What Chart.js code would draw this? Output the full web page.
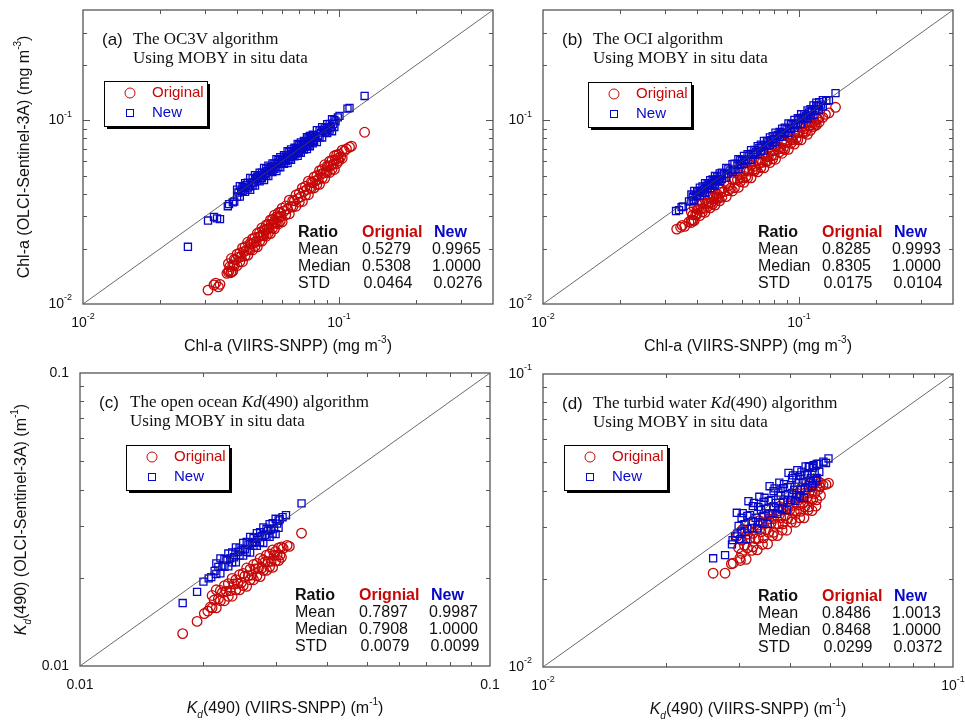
<!DOCTYPE html>
<html>
<head>
<meta charset="utf-8">
<script src="https://cdn.jsdelivr.net/npm/chart.js@4.4.1/dist/chart.umd.min.js"></script>
<style>
  html, body { margin: 0; padding: 0; background: #fff; }
  #wrap { position: relative; width: 965px; height: 727px; }
  #wrap canvas { position: absolute; left: 0; top: 0; }
</style>
</head>
<body>
<div id="wrap">
  <canvas id="chartA" width="965" height="727"></canvas>
  <canvas id="chartB" width="965" height="727"></canvas>
  <canvas id="chartC" width="965" height="727"></canvas>
  <canvas id="chartD" width="965" height="727"></canvas>
</div>
<script>
// ---- data: [VIIRS-SNPP, OLCI-Sentinel-3A] ----
const aOriginal = [
  [0.0308,0.0119],[0.0325,0.0127],[0.0330,0.0130],[0.0338,0.0124],[0.0343,0.0128],
  [0.0365,0.0147],[0.0372,0.0152],[0.0378,0.0148],[0.0385,0.0151],
  [0.037,0.0166],[0.037,0.0149],[0.038,0.0177],[0.038,0.0150],[0.039,0.0175],[0.039,0.0162],
  [0.040,0.0187],[0.040,0.0162],[0.041,0.0190],[0.041,0.0170],[0.042,0.0202],[0.042,0.0170],
  [0.043,0.0205],[0.043,0.0183],[0.044,0.0217],[0.044,0.0184],[0.045,0.0214],[0.045,0.0198],
  [0.046,0.0227],[0.046,0.0197],[0.047,0.0230],[0.047,0.0206],[0.048,0.0243],[0.048,0.0205],
  [0.049,0.0246],[0.049,0.0220],[0.050,0.0260],[0.050,0.0220],[0.051,0.0255],[0.051,0.0235],
  [0.052,0.0270],[0.052,0.0234],[0.053,0.0272],[0.053,0.0243],[0.054,0.0287],[0.054,0.0242],
  [0.055,0.0289],[0.055,0.0259],[0.056,0.0305],[0.056,0.0257],[0.057,0.0298],[0.057,0.0275],
  [0.058,0.0314],[0.058,0.0273],[0.059,0.0316],[0.059,0.0283],[0.060,0.0333],[0.060,0.0280],
  [0.062,0.0342],[0.062,0.0306],[0.064,0.0368],[0.064,0.0310],[0.066,0.0366],[0.066,0.0338],
  [0.068,0.0393],[0.068,0.0341],[0.070,0.0401],[0.070,0.0359],[0.072,0.0429],[0.072,0.0362],
  [0.074,0.0438],[0.074,0.0392],[0.076,0.0467],[0.076,0.0394],[0.078,0.0462],[0.078,0.0427],
  [0.080,0.0493],[0.080,0.0429],[0.082,0.0501],[0.082,0.0448],[0.084,0.0533],[0.084,0.0449],
  [0.086,0.0541],[0.086,0.0485],[0.088,0.0574],[0.088,0.0484],[0.090,0.0565],[0.090,0.0522],
  [0.092,0.0600],[0.092,0.0521],[0.094,0.0606],[0.094,0.0543],[0.096,0.0642],[0.096,0.0541],
  [0.098,0.0649],[0.098,0.0582],[0.100,0.0655],[0.100,0.0605],[0.103,0.0689],[0.103,0.0623],
  [0.0375,0.0160],[0.0385,0.0163],[0.0395,0.0174],[0.0405,0.0180],[0.0415,0.0181],[0.0425,0.0193],
  [0.0435,0.0196],[0.0445,0.0200],[0.0455,0.0212],[0.0465,0.0216],[0.0475,0.0219],[0.0485,0.0232],
  [0.0495,0.0235],[0.0505,0.0238],[0.0515,0.0252],[0.0525,0.0256],[0.0535,0.0259],[0.0545,0.0273],
  [0.0555,0.0276],[0.0565,0.0279],[0.0575,0.0294],[0.0585,0.0297],[0.0595,0.0300],[0.061,0.0320],
  [0.063,0.0330],[0.065,0.0340],[0.067,0.0365],[0.069,0.0375],[0.071,0.0384],[0.073,0.0411],
  [0.075,0.0421],[0.077,0.0430],[0.079,0.0459],[0.081,0.0469],[0.083,0.0478],[0.085,0.0509],
  [0.087,0.0518],[0.089,0.0527],[0.091,0.0560],[0.093,0.0569],[0.095,0.0577],[0.097,0.0612],
  [0.099,0.0621],[0.1015,0.0634],
  [0.105,0.0680],[0.107,0.0700],[0.110,0.0716],[0.112,0.0725],[0.126,0.0863]
];
const aNew = [
  [0.0257,0.0205],[0.0308,0.0285],[0.0325,0.0298],[0.0334,0.0293],[0.0343,0.0290],
  [0.0368,0.0341],[0.0372,0.0350],[0.0385,0.0358],[0.0390,0.0362],
  [0.040,0.0420],[0.040,0.0384],[0.041,0.0439],[0.041,0.0385],[0.042,0.0433],[0.042,0.0412],
  [0.043,0.0456],[0.043,0.0409],[0.044,0.0458],[0.044,0.0427],[0.045,0.0486],[0.045,0.0419],
  [0.046,0.0483],[0.046,0.0442],[0.047,0.0503],[0.047,0.0442],[0.048,0.0494],[0.048,0.0470],
  [0.049,0.0519],[0.049,0.0466],[0.050,0.0520],[0.050,0.0485],[0.051,0.0551],[0.051,0.0474],
  [0.052,0.0546],[0.052,0.0499],[0.053,0.0567],[0.053,0.0498],[0.054,0.0556],[0.054,0.0529],
  [0.055,0.0583],[0.055,0.0523],[0.056,0.0582],[0.056,0.0543],[0.057,0.0616],[0.057,0.0530],
  [0.058,0.0609],[0.058,0.0557],[0.059,0.0631],[0.059,0.0555],[0.060,0.0618],[0.060,0.0588],
  [0.061,0.0647],[0.061,0.0580],[0.062,0.0645],[0.062,0.0601],[0.063,0.0680],[0.063,0.0586],
  [0.064,0.0672],[0.064,0.0614],[0.065,0.0696],[0.065,0.0611],[0.066,0.0680],[0.066,0.0647],
  [0.067,0.0710],[0.067,0.0637],[0.068,0.0707],[0.068,0.0660],[0.069,0.0745],[0.069,0.0642],
  [0.070,0.0735],[0.070,0.0672],[0.071,0.0760],[0.071,0.0667],[0.072,0.0742],[0.072,0.0706],
  [0.073,0.0774],[0.073,0.0694],[0.074,0.0770],[0.074,0.0718],[0.075,0.0810],[0.075,0.0698],
  [0.076,0.0798],[0.076,0.0730],[0.077,0.0824],[0.077,0.0724],[0.078,0.0803],[0.078,0.0764],
  [0.079,0.0837],[0.079,0.0751],[0.080,0.0832],[0.080,0.0776],[0.082,0.0886],[0.082,0.0763],
  [0.084,0.0882],[0.084,0.0806],[0.086,0.0920],[0.086,0.0808],[0.088,0.0906],[0.088,0.0862],
  [0.090,0.0954],[0.090,0.0855],[0.092,0.0957],[0.092,0.0892],[0.094,0.1015],[0.094,0.0874],
  [0.096,0.1008],[0.096,0.0922],
  [0.0405,0.0405],[0.0415,0.0411],[0.0425,0.0429],[0.0435,0.0444],[0.0445,0.0436],[0.0455,0.0455],
  [0.0465,0.0460],[0.0475,0.0480],[0.0485,0.0495],[0.0495,0.0485],[0.0505,0.0505],[0.0515,0.0510],
  [0.0525,0.0530],[0.0535,0.0546],[0.0545,0.0534],[0.0555,0.0555],[0.0565,0.0559],[0.0575,0.0581],
  [0.0585,0.0597],[0.0595,0.0583],[0.0605,0.0605],[0.0615,0.0609],[0.0625,0.0631],[0.0635,0.0648],
  [0.0645,0.0632],[0.0655,0.0655],[0.0665,0.0658],[0.0675,0.0682],[0.0685,0.0699],[0.0695,0.0681],
  [0.0705,0.0705],[0.0715,0.0708],[0.0725,0.0732],[0.0735,0.0750],[0.0745,0.0730],[0.0755,0.0755],
  [0.0765,0.0757],[0.0775,0.0783],[0.0785,0.0801],[0.0795,0.0779],[0.081,0.0810],[0.083,0.0822],
  [0.085,0.0859],[0.087,0.0887],[0.089,0.0872],[0.091,0.0910],[0.093,0.0921],[0.095,0.0960],
  [0.097,0.0989],
  [0.099,0.1040],[0.1005,0.1060],[0.108,0.1160],[0.110,0.1170],[0.126,0.1360]
];
const bOriginal = [
  [0.0333,0.0256],[0.0345,0.0262],[0.0350,0.0268],[0.0358,0.0265],[0.0372,0.0280],[0.0380,0.0278],[0.0385,0.0285],
  [0.038,0.0317],[0.038,0.0287],[0.039,0.0335],[0.039,0.0285],[0.040,0.0328],[0.040,0.0308],
  [0.041,0.0349],[0.041,0.0303],[0.042,0.0352],[0.042,0.0318],[0.043,0.0370],[0.043,0.0316],
  [0.044,0.0362],[0.044,0.0340],[0.045,0.0384],[0.045,0.0334],[0.046,0.0386],[0.046,0.0350],
  [0.047,0.0406],[0.047,0.0346],[0.048,0.0396],[0.048,0.0372],[0.049,0.0421],[0.049,0.0365],
  [0.050,0.0422],[0.050,0.0382],[0.052,0.0453],[0.052,0.0385],[0.053,0.0441],[0.053,0.0415],
  [0.055,0.0475],[0.055,0.0413],[0.056,0.0476],[0.056,0.0430],[0.058,0.0508],[0.058,0.0432],
  [0.059,0.0492],[0.059,0.0464],[0.061,0.0530],[0.061,0.0460],[0.063,0.0538],[0.063,0.0486],
  [0.065,0.0571],[0.065,0.0487],[0.067,0.0562],[0.067,0.0530],[0.069,0.0603],[0.069,0.0525],
  [0.071,0.0612],[0.071,0.0554],[0.073,0.0648],[0.073,0.0552],[0.075,0.0636],[0.075,0.0598],
  [0.077,0.0678],[0.077,0.0590],[0.079,0.0684],[0.079,0.0618],[0.081,0.0723],[0.081,0.0615],
  [0.084,0.0716],[0.084,0.0674],[0.086,0.0763],[0.086,0.0663],[0.088,0.0767],[0.088,0.0694],
  [0.091,0.0816],[0.091,0.0696],[0.093,0.0796],[0.093,0.0750],[0.096,0.0856],[0.096,0.0744],
  [0.099,0.0867],[0.099,0.0785],[0.102,0.0920],[0.102,0.0784],[0.105,0.0904],[0.105,0.0852],
  [0.108,0.0967],[0.108,0.0841],[0.111,0.0978],[0.111,0.0884],[0.114,0.0985],[0.114,0.0927],
  [0.117,0.1022],[0.117,0.0944],[0.120,0.1038],[0.120,0.0978],
  [0.0385,0.0306],[0.0395,0.0308],[0.0405,0.0328],[0.0415,0.0331],[0.0425,0.0332],[0.0435,0.0354],
  [0.0445,0.0355],[0.0455,0.0357],[0.0465,0.0379],[0.0475,0.0380],[0.0485,0.0381],[0.0495,0.0405],
  [0.051,0.0410],[0.054,0.0427],[0.0575,0.0475],[0.060,0.0487],[0.062,0.0494],[0.064,0.0530],
  [0.066,0.0537],[0.068,0.0544],[0.070,0.0585],[0.072,0.0591],[0.074,0.0596],[0.076,0.0638],
  [0.078,0.0643],[0.080,0.0647],[0.0825,0.0696],[0.085,0.0704],[0.087,0.0707],[0.0895,0.0758],
  [0.0945,0.0786],[0.0975,0.0797],[0.1005,0.0856],[0.1035,0.0865],[0.1065,0.0873],[0.1095,0.0935],
  [0.1125,0.0944],[0.1155,0.0951],[0.1185,0.1016],
  [0.124,0.1040],[0.127,0.1080],[0.131,0.1100],[0.139,0.1180]
];
const bNew = [
  [0.0331,0.0321],[0.0340,0.0325],[0.0348,0.0337],[0.0352,0.0340],[0.0372,0.0362],[0.0387,0.0367],
  [0.038,0.0395],[0.038,0.0365],[0.039,0.0413],[0.039,0.0367],[0.040,0.0412],[0.040,0.0388],
  [0.041,0.0431],[0.041,0.0390],[0.042,0.0437],[0.042,0.0403],[0.043,0.0456],[0.043,0.0404],
  [0.044,0.0453],[0.044,0.0427],[0.045,0.0473],[0.045,0.0428],[0.046,0.0478],[0.046,0.0442],
  [0.047,0.0498],[0.047,0.0442],[0.048,0.0494],[0.048,0.0466],[0.049,0.0515],[0.049,0.0466],
  [0.050,0.0520],[0.050,0.0480],[0.052,0.0551],[0.052,0.0489],[0.053,0.0546],[0.053,0.0514],
  [0.055,0.0578],[0.055,0.0523],[0.056,0.0582],[0.056,0.0538],[0.058,0.0615],[0.058,0.0545],
  [0.059,0.0608],[0.059,0.0572],[0.061,0.0641],[0.061,0.0580],[0.063,0.0655],[0.063,0.0605],
  [0.065,0.0689],[0.065,0.0611],[0.067,0.0690],[0.067,0.0650],[0.069,0.0725],[0.069,0.0656],
  [0.071,0.0738],[0.071,0.0682],[0.073,0.0774],[0.073,0.0686],[0.075,0.0773],[0.075,0.0728],
  [0.077,0.0809],[0.077,0.0732],[0.079,0.0822],[0.079,0.0758],[0.081,0.0859],[0.081,0.0761],
  [0.084,0.0865],[0.084,0.0815],[0.086,0.0903],[0.086,0.0817],[0.088,0.0915],[0.088,0.0845],
  [0.091,0.0965],[0.091,0.0855],[0.093,0.0958],[0.093,0.0902],[0.096,0.1008],[0.096,0.0912],
  [0.099,0.1030],[0.099,0.0950],[0.102,0.1081],[0.102,0.0959],[0.105,0.1082],[0.105,0.1019],
  [0.108,0.1134],[0.108,0.1026],[0.111,0.1154],[0.111,0.1066],[0.114,0.1208],[0.114,0.1072],
  [0.117,0.1205],[0.117,0.1135],[0.120,0.1260],[0.120,0.1140],[0.124,0.1290],[0.124,0.1190],
  [0.0385,0.0385],[0.0395,0.0391],[0.0405,0.0409],[0.0415,0.0415],[0.0425,0.0421],[0.0435,0.0439],
  [0.0445,0.0445],[0.0455,0.0450],[0.0465,0.0470],[0.0475,0.0475],[0.0485,0.0480],[0.0495,0.0500],
  [0.051,0.0510],[0.054,0.0535],[0.0575,0.0581],[0.060,0.0600],[0.062,0.0614],[0.064,0.0646],
  [0.066,0.0660],[0.068,0.0673],[0.070,0.0707],[0.072,0.0720],[0.074,0.0733],[0.076,0.0768],
  [0.078,0.0780],[0.080,0.0792],[0.0825,0.0833],[0.085,0.0850],[0.087,0.0861],[0.0895,0.0904],
  [0.0945,0.0945],[0.0975,0.0965],[0.1005,0.1015],[0.1035,0.1035],[0.1065,0.1054],[0.1095,0.1106],
  [0.1125,0.1125],[0.1155,0.1143],[0.1185,0.1197],[0.122,0.1220],
  [0.117,0.1250],[0.128,0.1280],[0.131,0.1290],[0.139,0.1410]
];
const cOriginal = [
  [0.0178,0.0129],[0.0193,0.0142],[0.0201,0.0151],[0.0205,0.0154],[0.0208,0.0159],
  [0.0210,0.0174],[0.0210,0.0158],[0.0215,0.0182],[0.0215,0.0158],[0.0220,0.0181],[0.0220,0.0167],
  [0.0225,0.0188],[0.0225,0.0167],[0.0230,0.0191],[0.0230,0.0173],[0.0235,0.0199],[0.0235,0.0173],
  [0.0240,0.0197],[0.0240,0.0182],[0.0245,0.0205],[0.0245,0.0182],[0.0250,0.0207],[0.0250,0.0188],
  [0.0255,0.0216],[0.0255,0.0187],[0.0260,0.0214],[0.0260,0.0197],[0.0265,0.0222],[0.0265,0.0197],
  [0.0270,0.0224],[0.0270,0.0203],[0.0275,0.0233],[0.0275,0.0202],[0.0280,0.0230],[0.0280,0.0212],
  [0.0285,0.0239],[0.0285,0.0212],[0.0290,0.0241],[0.0290,0.0218],[0.0295,0.0249],[0.0295,0.0217],
  [0.0300,0.0246],[0.0300,0.0228],[0.0305,0.0253],[0.0305,0.0229],[0.0310,0.0255],[0.0310,0.0235],
  [0.02125,0.01679],[0.02175,0.01693],[0.02225,0.01784],[0.02275,0.01797],[0.02325,0.01809],
  [0.02375,0.01904],[0.02425,0.01916],[0.02475,0.01926],[0.02525,0.02025],[0.02575,0.02034],
  [0.02625,0.02043],[0.02675,0.02145],[0.02725,0.02153],[0.02775,0.02159],[0.02825,0.02265],
  [0.02875,0.02271],[0.02925,0.02276],[0.02975,0.02385],[0.03025,0.0239],[0.03075,0.0239],
  [0.0313,0.0252],[0.0320,0.0258],[0.0324,0.0256],[0.0347,0.0284]
];
const cNew = [
  [0.0178,0.0164],[0.0193,0.0179],[0.0200,0.0194],[0.0206,0.0199],[0.0209,0.0201],[0.0213,0.0211],
  [0.0215,0.0224],[0.0215,0.0206],[0.0220,0.0233],[0.0220,0.0207],[0.0225,0.0232],[0.0225,0.0218],
  [0.0230,0.0242],[0.0230,0.0219],[0.0235,0.0244],[0.0235,0.0226],[0.0240,0.0254],[0.0240,0.0226],
  [0.0245,0.0252],[0.0245,0.0238],[0.0250,0.0263],[0.0250,0.0238],[0.0255,0.0265],[0.0255,0.0245],
  [0.0260,0.0276],[0.0260,0.0244],[0.0265,0.0273],[0.0265,0.0257],[0.0270,0.0284],[0.0270,0.0257],
  [0.0275,0.0286],[0.0275,0.0264],[0.0280,0.0297],[0.0280,0.0263],[0.0285,0.0294],[0.0285,0.0276],
  [0.0290,0.0305],[0.0290,0.0276],[0.0295,0.0307],[0.0295,0.0283],[0.0300,0.0318],[0.0300,0.0282],
  [0.0305,0.0314],[0.0305,0.0296],
  [0.02175,0.0218],[0.02225,0.0220],[0.02275,0.0230],[0.02325,0.0233],[0.02375,0.0235],
  [0.02425,0.0245],[0.02475,0.0248],[0.02525,0.0250],[0.02575,0.0260],[0.02625,0.0263],
  [0.02675,0.0265],[0.02725,0.0275],[0.02775,0.0278],[0.02825,0.0280],[0.02875,0.0290],
  [0.02925,0.0293],[0.02975,0.0295],[0.03025,0.0306],
  [0.0307,0.0317],[0.0312,0.0322],[0.0318,0.0327],[0.0347,0.0359]
];
const dOriginal = [
  [0.0260,0.0209],[0.0278,0.0209],[0.0288,0.0225],[0.0291,0.0226],[0.0302,0.0235],
  [0.0297,0.0279],[0.0300,0.0255],[0.0303,0.0231],[0.0307,0.0295],[0.0310,0.0260],[0.0313,0.0233],
  [0.0317,0.0294],[0.0320,0.0275],[0.0323,0.0250],[0.0327,0.0310],[0.0330,0.0274],[0.0333,0.0251],
  [0.0337,0.0316],[0.0340,0.0289],[0.0343,0.0262],[0.0347,0.0333],[0.0350,0.0294],[0.0353,0.0263],
  [0.0357,0.0331],[0.0360,0.0310],[0.0363,0.0281],[0.0367,0.0348],[0.0370,0.0307],[0.0373,0.0281],
  [0.0377,0.0353],[0.0380,0.0323],[0.0383,0.0293],[0.0387,0.0371],[0.0390,0.0328],[0.0393,0.0293],
  [0.0397,0.0368],[0.0400,0.0344],[0.0403,0.0312],[0.0407,0.0385],[0.0410,0.0340],[0.0413,0.0312],
  [0.0417,0.0391],[0.0420,0.0357],[0.0423,0.0323],[0.0427,0.0409],[0.0430,0.0361],[0.0433,0.0323],
  [0.0437,0.0405],[0.0440,0.0378],[0.0443,0.0343],[0.0447,0.0423],[0.0450,0.0374],[0.0453,0.0342],
  [0.0457,0.0428],[0.0460,0.0391],[0.0463,0.0354],[0.0467,0.0432],[0.0470,0.0404],
  [0.0305,0.0271],[0.0305,0.0244],[0.0315,0.0284],[0.0315,0.0255],[0.0325,0.0286],[0.0325,0.0257],
  [0.0335,0.0305],[0.0335,0.0275],[0.0345,0.0307],[0.0345,0.0276],[0.0355,0.0320],[0.0355,0.0288],
  [0.0365,0.0321],[0.0365,0.0288],[0.0375,0.0341],[0.0375,0.0308],[0.0385,0.0343],[0.0385,0.0308],
  [0.0395,0.0356],[0.0395,0.0320],[0.0405,0.0356],[0.0405,0.0320],[0.0415,0.0378],[0.0415,0.0340],
  [0.0425,0.0378],[0.0425,0.0340],[0.0435,0.0392],[0.0435,0.0352],[0.0445,0.0392],[0.0445,0.0352],
  [0.0455,0.0414],[0.0455,0.0373],[0.0465,0.0414],[0.0465,0.0372],[0.0475,0.0425],[0.0475,0.0385],
  [0.0452,0.0412],[0.0473,0.0412],[0.0482,0.0418],[0.0490,0.0420],[0.0497,0.0424]
];
const dNew = [
  [0.0260,0.0235],[0.0278,0.0241],[0.0289,0.0262],[0.0290,0.0271],[0.0294,0.0279],[0.0298,0.0285],
  [0.0297,0.0336],[0.0300,0.0303],[0.0303,0.0273],[0.0307,0.0335],[0.0310,0.0307],[0.0313,0.0273],
  [0.0317,0.0368],[0.0320,0.0330],[0.0323,0.0298],[0.0327,0.0363],[0.0330,0.0323],[0.0333,0.0297],
  [0.0337,0.0381],[0.0340,0.0343],[0.0343,0.0309],[0.0347,0.0378],[0.0350,0.0347],[0.0353,0.0308],
  [0.0357,0.0414],[0.0360,0.0371],[0.0363,0.0335],[0.0367,0.0407],[0.0370,0.0363],[0.0373,0.0333],
  [0.0377,0.0426],[0.0380,0.0384],[0.0383,0.0346],[0.0387,0.0421],[0.0390,0.0386],[0.0393,0.0343],
  [0.0397,0.0460],[0.0400,0.0412],[0.0403,0.0372],[0.0407,0.0451],[0.0410,0.0402],[0.0413,0.0369],
  [0.0417,0.0470],[0.0420,0.0424],[0.0423,0.0382],[0.0427,0.0464],[0.0430,0.0426],[0.0433,0.0378],
  [0.0437,0.0484],[0.0440,0.0453],[0.0443,0.0409],[0.0447,0.0482],[0.0450,0.0441],[0.0453,0.0414],
  [0.0457,0.0488],[0.0460,0.0460],[0.0463,0.0432],[0.0470,0.0494],[0.0472,0.0463],
  [0.0305,0.0323],[0.0305,0.0290],[0.0315,0.0328],[0.0315,0.0296],[0.0325,0.0354],[0.0325,0.0315],
  [0.0335,0.0352],[0.0335,0.0312],[0.0345,0.0366],[0.0345,0.0328],[0.0355,0.0369],[0.0355,0.0334],
  [0.0365,0.0398],[0.0365,0.0354],[0.0375,0.0394],[0.0375,0.0349],[0.0385,0.0408],[0.0385,0.0366],
  [0.0395,0.0411],[0.0395,0.0371],[0.0405,0.0441],[0.0405,0.0393],[0.0415,0.0436],[0.0415,0.0386],
  [0.0425,0.0451],[0.0425,0.0404],[0.0435,0.0452],[0.0435,0.0409],[0.0445,0.0485],[0.0445,0.0432],
  [0.0455,0.0478],[0.0455,0.0423],[0.0465,0.0493],[0.0465,0.0442],
  [0.0456,0.0485],[0.0483,0.0502],[0.0490,0.0497],[0.0497,0.0515]
];

// ratio statistics printed in each panel: [Original, New]
const ratioRows = ['Mean', 'Median', 'STD'];
const ratioA = [['0.5279', '0.9965'], ['0.5308', '1.0000'], ['0.0464', '0.0276']];
const ratioB = [['0.8285', '0.9993'], ['0.8305', '1.0000'], ['0.0175', '0.0104']];
const ratioC = [['0.7897', '0.9987'], ['0.7908', '1.0000'], ['0.0079', '0.0099']];
const ratioD = [['0.8486', '1.0013'], ['0.8468', '1.0000'], ['0.0299', '0.0372']];

const RED = 'rgb(198,8,8)';
const BLUE = 'rgb(8,8,200)';
const SANS = '"Liberation Sans", Arial, Helvetica, sans-serif';
const SERIF = '"Liberation Serif", "Times New Roman", serif';

const chlX = [['Chl-a (VIIRS-SNPP) (mg m', ''], ['-3', 'sup'], [')', '']];
const chlY = [['Chl-a (OLCI-Sentinel-3A) (mg m', ''], ['-3', 'sup'], [')', '']];
const kdX = [['K', 'ital'], ['d', 'sub ital'], ['(490) (VIIRS-SNPP) (m', ''], ['-1', 'sup'], [')', '']];
const kdY = [['K', 'ital'], ['d', 'sub ital'], ['(490) (OLCI-Sentinel-3A) (m', ''], ['-1', 'sup'], [')', '']];

const panels = [
  { id: 'chartA', box: [83, 10, 493, 304], min: 0.01, max: 0.4, orig: aOriginal, neu: aNew, ratio: ratioA,
    tag: '(a)', line1: [['The OC3V algorithm', '']], labels: 'pow', xTitle: chlX, yTitle: chlY,
    legend: [21, 71] },
  { id: 'chartB', box: [543, 10, 953, 304], min: 0.01, max: 0.4, orig: bOriginal, neu: bNew, ratio: ratioB,
    tag: '(b)', line1: [['The OCI algorithm', '']], labels: 'pow', xTitle: chlX, yTitle: null,
    legend: [45, 72] },
  { id: 'chartC', box: [80, 373, 490, 666], min: 0.01, max: 0.1, orig: cOriginal, neu: cNew, ratio: ratioC,
    tag: '(c)', line1: [['The open ocean ', ''], ['Kd', 'ital'], ['(490) algorithm', '']], labels: 'dec',
    xTitle: kdX, yTitle: kdY, legend: [46, 72] },
  { id: 'chartD', box: [543, 374, 953, 667], min: 0.01, max: 0.1, orig: dOriginal, neu: dNew, ratio: ratioD,
    tag: '(d)', line1: [['The turbid water ', ''], ['Kd', 'ital'], ['(490) algorithm', '']], labels: 'pow',
    xTitle: kdX, yTitle: null, legend: [21, 71] }
];

function drawRich(ctx, parts, x, y, size, family, align, rot) {
  const fontFor = function(st) {
    let s = size, pre = '';
    if (st.includes('sup') || st.includes('sub')) s = Math.round(size * 0.62);
    if (st.includes('ital')) pre += 'italic ';
    if (st.includes('bold')) pre += 'bold ';
    return pre + s + 'px ' + family;
  };
  const widths = parts.map(function(p) { ctx.font = fontFor(p[1]); return ctx.measureText(p[0]).width; });
  const total = widths.reduce(function(s, w) { return s + w; }, 0);
  ctx.save();
  ctx.translate(x, y);
  if (rot) ctx.rotate(rot);
  let cx = align === 'center' ? -total / 2 : align === 'right' ? -total : 0;
  ctx.textBaseline = 'middle';
  ctx.textAlign = 'left';
  parts.forEach(function(p, i) {
    ctx.font = fontFor(p[1]);
    const dy = p[1].includes('sup') ? -size * 0.45 : p[1].includes('sub') ? size * 0.4 : 0;
    ctx.fillText(p[0], cx, dy);
    cx += widths[i];
  });
  ctx.restore();
}

function logTicks(min, max) {
  const out = [];
  for (let d = Math.floor(Math.log10(min)); d <= Math.ceil(Math.log10(max)); d++) {
    for (let m = 1; m <= 9; m++) {
      const v = m * Math.pow(10, d);
      if (v > min * 1.001 && v < max * 0.999) out.push({ v: v, major: m === 1 });
    }
  }
  return out;
}

function decor(p) {
  return {
    id: 'decor' + p.id,
    afterDatasetsDraw: function(chart) {
      const ctx = chart.ctx, a = chart.chartArea, xs = chart.scales.x, ys = chart.scales.y;
      ctx.save();
      // frame and inward ticks
      ctx.strokeStyle = '#555';
      ctx.lineWidth = 1.3;
      ctx.strokeRect(a.left, a.top, a.right - a.left, a.bottom - a.top);
      ctx.lineWidth = 1;
      ctx.beginPath();
      logTicks(p.min, p.max).forEach(function(t) {
        const len = t.major ? 7 : 4;
        const px = Math.round(xs.getPixelForValue(t.v)) + 0.5;
        ctx.moveTo(px, a.bottom); ctx.lineTo(px, a.bottom - len);
        ctx.moveTo(px, a.top); ctx.lineTo(px, a.top + len);
        const py = Math.round(ys.getPixelForValue(t.v)) + 0.5;
        ctx.moveTo(a.left, py); ctx.lineTo(a.left + len, py);
        ctx.moveTo(a.right, py); ctx.lineTo(a.right - len, py);
      });
      ctx.stroke();

      // tick labels at decades
      ctx.fillStyle = '#111';
      [0.01, 0.1].forEach(function(v) {
        const parts = p.labels === 'pow'
          ? [['10', ''], [v === 0.01 ? '-2' : '-1', 'sup']]
          : [[v === 0.01 ? '0.01' : '0.1', '']];
        drawRich(ctx, parts, xs.getPixelForValue(v), a.bottom + 19, 14, SANS, 'center');
        drawRich(ctx, parts, a.left - 11, ys.getPixelForValue(v), 14, SANS, 'right');
      });

      // axis titles
      drawRich(ctx, p.xTitle, (a.left + a.right) / 2, a.bottom + 43, 16, SANS, 'center');
      if (p.yTitle) drawRich(ctx, p.yTitle, a.left - 58, (a.top + a.bottom) / 2, 16, SANS, 'center', -Math.PI / 2);

      // panel caption
      drawRich(ctx, [[p.tag, '']], a.left + 19, a.top + 30, 17, SANS, 'left');
      drawRich(ctx, p.line1, a.left + 50, a.top + 30, 17, SERIF, 'left');
      drawRich(ctx, [['Using MOBY in situ data', '']], a.left + 50, a.top + 49, 17, SERIF, 'left');

      // legend box with shadow
      const lx = a.left + p.legend[0], ly = a.top + p.legend[1], lw = 103, lh = 45;
      ctx.fillStyle = '#000';
      ctx.fillRect(lx + 3, ly + 3, lw, lh);
      ctx.fillStyle = '#fff';
      ctx.fillRect(lx, ly, lw, lh);
      ctx.strokeStyle = '#000';
      ctx.lineWidth = 1;
      ctx.strokeRect(lx + 0.5, ly + 0.5, lw, lh);
      ctx.strokeStyle = RED;
      ctx.beginPath();
      ctx.arc(lx + 26, ly + 12, 5, 0, Math.PI * 2);
      ctx.stroke();
      ctx.strokeStyle = BLUE;
      ctx.strokeRect(lx + 22.5, ly + 28.5, 7, 7);
      ctx.fillStyle = RED;
      drawRich(ctx, [['Original', '']], lx + 48, ly + 12, 15, SANS, 'left');
      ctx.fillStyle = BLUE;
      drawRich(ctx, [['New', '']], lx + 48, ly + 32, 15, SANS, 'left');

      // ratio table
      const tx = a.left + 215, ty = a.top + 223;
      ctx.fillStyle = '#111';
      drawRich(ctx, [['Ratio', 'bold']], tx, ty, 16, SANS, 'left');
      ctx.fillStyle = RED;
      drawRich(ctx, [['Orignial', 'bold']], tx + 64, ty, 16, SANS, 'left');
      ctx.fillStyle = BLUE;
      drawRich(ctx, [['New', 'bold']], tx + 136, ty, 16, SANS, 'left');
      ctx.fillStyle = '#111';
      ratioRows.forEach(function(r, i) {
        const ry = ty + 16.7 * (i + 1);
        const shift = i === 2 ? 1.5 : 0;
        drawRich(ctx, [[r, '']], tx, ry, 16, SANS, 'left');
        drawRich(ctx, [[p.ratio[i][0], '']], tx + 64 + shift, ry, 16, SANS, 'left');
        drawRich(ctx, [[p.ratio[i][1], '']], tx + 134 + shift, ry, 16, SANS, 'left');
      });
      ctx.restore();
    }
  };
}

function toXY(list) {
  return list.map(function(d) { return { x: d[0], y: d[1] }; });
}

panels.forEach(function(p) {
  new Chart(p.id, {
    type: 'scatter',
    data: {
      datasets: [
        {
          type: 'line',
          data: [{ x: p.min, y: p.min }, { x: p.max, y: p.max }],
          borderColor: '#444',
          borderWidth: 0.8,
          pointRadius: 0,
          order: 0
        },
        {
          label: 'New',
          data: toXY(p.neu),
          pointStyle: 'rect',
          pointRadius: 5,
          borderColor: BLUE,
          backgroundColor: 'rgba(0,0,0,0)',
          borderWidth: 1.3,
          order: 1
        },
        {
          label: 'Original',
          data: toXY(p.orig),
          pointStyle: 'circle',
          pointRadius: 4.8,
          borderColor: RED,
          backgroundColor: 'rgba(0,0,0,0)',
          borderWidth: 1.3,
          order: 2
        }
      ]
    },
    options: {
      responsive: false,
      animation: false,
      layout: {
        padding: { left: p.box[0], top: p.box[1], right: 965 - p.box[2], bottom: 727 - p.box[3] }
      },
      scales: {
        x: { type: 'logarithmic', min: p.min, max: p.max, display: false },
        y: { type: 'logarithmic', min: p.min, max: p.max, display: false }
      },
      plugins: {
        legend: { display: false },
        tooltip: { enabled: false }
      }
    },
    plugins: [decor(p)]
  });
});
</script>
</body>
</html>
